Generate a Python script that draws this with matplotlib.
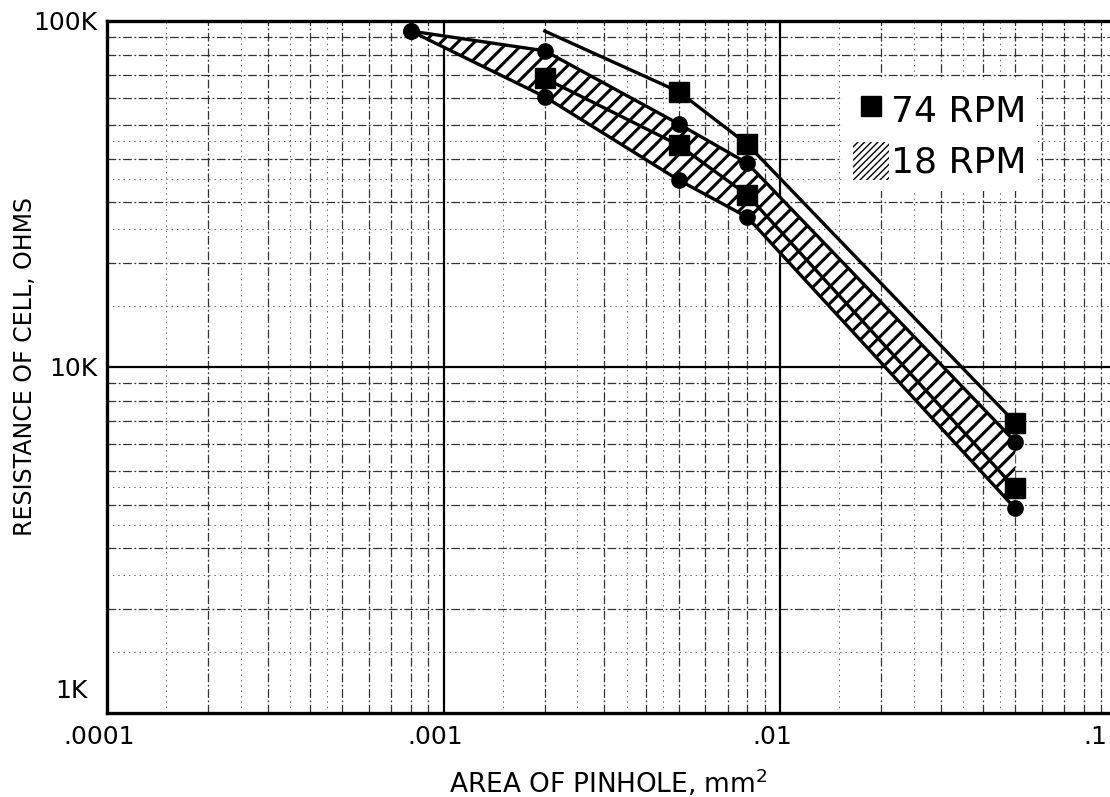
import numpy as np
import matplotlib
matplotlib.use("Agg")
import matplotlib.pyplot as plt
import matplotlib.transforms as mtransforms
from matplotlib.lines import Line2D
from matplotlib.patches import Patch

# --- data ---
# 18 RPM band (circles), upper and lower edge
area_18 = [0.0008, 0.002, 0.005, 0.008, 0.05]
res_18_hi = [93500, 82000, 50400, 38800, 6080]
res_18_lo = [93500, 60400, 34700, 27100, 3900]
# 74 RPM (squares), two curves
area_74 = [0.002, 0.005, 0.008, 0.05]
res_74_hi = [93500, 62500, 44000, 6900]
res_74_lo = [68300, 43800, 31400, 4460]

x_ticks = [1e-4, 1e-3, 1e-2]
x_ticklabels = ['.0001', '.001', '.01']
y_ticks = [1e4, 1e5]
y_ticklabels = ['10K', '100K']

# graph paper rulings inside each decade
decades_x = [1e-4, 1e-3, 1e-2]
decades_y = [1e3, 1e4]
rule_main = [2, 3, 4, 5, 6, 7, 8, 9]
rule_half = [1.5, 2.5, 3.5, 4.5]

plt.rcParams['font.family'] = 'DejaVu Sans'
plt.rcParams['hatch.linewidth'] = 2.2

W, H = 1110, 797
fig = plt.figure(figsize=(W / 100, H / 100), dpi=100)
ax = fig.add_axes([107 / W, 1 - 713 / H, 1 - 107 / W, (713 - 21) / H])
ax.set_xscale('log')
ax.set_yscale('log')
ax.set_xlim(1e-4, 10 ** (-4 + 1003 / 336.5))
ax.set_ylim(1e3, 1e5)

# graph paper grid
xt = ax.get_xaxis_transform()
yt = ax.get_yaxis_transform()
xs_main = [d * m for d in decades_x for m in rule_main]
xs_half = [d * m for d in decades_x for m in rule_half]
ys_main = [d * m for d in decades_y for m in rule_main]
ys_half = [d * m for d in decades_y for m in rule_half]
ax.vlines(xs_half, 0, 1, transform=xt, color='#666666', lw=0.7, ls=(0, (1.5, 4)), zorder=1)
ax.hlines(ys_half, 0, 1, transform=yt, color='#666666', lw=0.7, ls=(0, (1.5, 4)), zorder=1)
ax.vlines(xs_main, 0, 1, transform=xt, color='#333333', lw=0.9, ls=(0, (7, 2, 1.5, 2)), zorder=1)
ax.hlines(ys_main, 0, 1, transform=yt, color='#333333', lw=0.9, ls=(0, (7, 2, 1.5, 2)), zorder=1)
ax.vlines([1e-3, 1e-2], 0, 1, transform=xt, color='black', lw=1.6, zorder=1)
ax.hlines([1e4], 0, 1, transform=yt, color='black', lw=1.6, zorder=1)

# 18 RPM hatched band
ax.fill_between(area_18, res_18_lo, res_18_hi, facecolor='white',
                edgecolor='black', hatch='//', lw=0, zorder=2)
ax.plot(area_18, res_18_hi, color='black', lw=2.4, marker='o', ms=11, zorder=3)
ax.plot(area_18, res_18_lo, color='black', lw=2.4, marker='o', ms=11, zorder=3)

# 74 RPM curves
ax.plot(area_74, res_74_lo, color='black', lw=2.4, marker='s', ms=14, zorder=4)
ax.plot(area_74, res_74_hi, color='black', lw=2.4, zorder=4)
ax.plot(area_74[1:], res_74_hi[1:], ls='none', color='black', marker='s', ms=14, zorder=4)

# frame
for side in ['left', 'bottom', 'top']:
    ax.spines[side].set_linewidth(2.4)
ax.spines['right'].set_visible(False)

ax.xaxis.set_minor_locator(matplotlib.ticker.NullLocator())
ax.yaxis.set_minor_locator(matplotlib.ticker.NullLocator())
ax.set_xticks(x_ticks)
ax.set_xticklabels(x_ticklabels, fontsize=18)
ax.set_yticks(y_ticks)
ax.set_yticklabels(y_ticklabels, fontsize=18)
ax.tick_params(length=0)
ax.tick_params(axis='x', pad=9)
ax.tick_params(axis='y', pad=7)
shift = mtransforms.ScaledTranslation(-8 / 100, 0, fig.dpi_scale_trans)
for lab in ax.get_xticklabels():
    lab.set_transform(lab.get_transform() + shift)

ax.annotate('1K', xy=(0, 1e3), xycoords=('axes fraction', 'data'),
            xytext=(-14, 7), textcoords='offset points', ha='right', va='bottom',
            fontsize=18)
ax.annotate('.1', xy=(1, 0), xycoords='axes fraction',
            xytext=(-2, -9), textcoords='offset points', ha='right', va='top',
            fontsize=18, annotation_clip=False)

ax.set_ylabel('RESISTANCE OF CELL, OHMS', fontsize=17)
ax.yaxis.set_label_coords((37 - 107) / 1003, 0.5)
ax.set_xlabel('AREA OF PINHOLE, mm$^2$', fontsize=19, labelpad=13)

handles = [Line2D([], [], ls='none', marker='s', color='black', ms=15),
           Patch(facecolor='white', edgecolor='black', hatch='/////', lw=0)]
leg = ax.legend(handles, ['74 RPM', '18 RPM'], loc='upper left',
                bbox_to_anchor=(842 / W, 1 - 80 / H), bbox_transform=fig.transFigure,
                fontsize=26, frameon=True, fancybox=False, framealpha=1,
                edgecolor='none', handlelength=1.0, handleheight=1.25,
                handletextpad=0.05, labelspacing=0.35, borderpad=0.3, borderaxespad=0)
leg.set_zorder(5)
hp = leg.legend_handles[1]
if hasattr(hp, 'set_hatch_linewidth'):
    hp.set_hatch_linewidth(1.0)

fig.savefig('out.png', dpi=100)
